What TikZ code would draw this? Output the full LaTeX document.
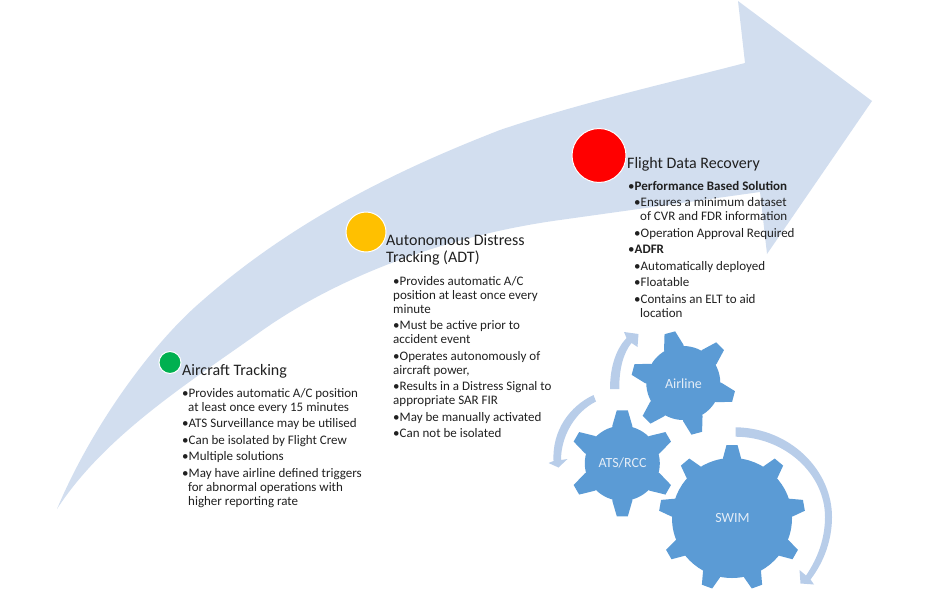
\documentclass[tikz,border=0pt]{standalone}
\usepackage{fontspec}
\setmainfont{Carlito}
\usetikzlibrary{positioning}

\definecolor{arrowblue}{HTML}{D2DEEF}
\definecolor{gearblue}{HTML}{5B9BD5}
\definecolor{swirlblue}{HTML}{B8CDE9}
\definecolor{textgrey}{HTML}{202020}
\definecolor{gearwhite}{HTML}{E4EDF7}
\definecolor{dotgreen}{HTML}{00B050}
\definecolor{dotamber}{HTML}{FFC000}

% gear: x, y, radius, tip radius, teeth, start angle, base half width, tip half width
\newcommand{\gearshape}[8]{%
  \begin{scope}[shift={(#1,#2)},y=1pt]
    \fill[gearblue] (0,0) circle[radius=#3];
    \foreach \i in {1,...,#5}
      \fill[gearblue,rotate=#6+(\i-1)*360/#5] (#3-3,-#7) -- (#3,-#7) -- (#4,-#8) -- (#4,#8) -- (#3,#7) -- (#3-3,#7) -- cycle;
  \end{scope}}

\begin{document}
\begin{tikzpicture}[x=1pt,y=-1pt,
  dotnode/.style={circle,draw=white,line width=1pt,inner sep=0pt},
  heading/.style={anchor=north west,font=\fontsize{16}{17}\selectfont,text=textgrey,inner sep=0pt,align=left},
  listnode/.style={anchor=north west,font=\fontsize{13}{14}\selectfont,text=textgrey,inner sep=0pt,align=left},
  gearlabel/.style={font=\fontsize{14}{16}\selectfont,text=gearwhite},
]
\useasboundingbox (0,0) rectangle (928,597);

% Big arrow
\fill[arrowblue] (57,509) .. controls (90,430) and (150,345) .. (203,300)
  .. controls (300,215) and (410,165) .. (500,130)
  .. controls (580,103) and (660,85) .. (745,63)
  -- (738,1) -- (872,101) -- (767,254) -- (760,192) -- (560,220)
  .. controls (450,235) and (340,275) .. (260,332)
  .. controls (190,382) and (105,435) .. (57,509) -- cycle;

% Milestones
\node[dotnode,fill=dotgreen,minimum size=22pt] (trackdot) at (170,362.5) {};
\node[dotnode,fill=dotamber,minimum size=40pt] (adtdot) at (366,232) {};
\node[dotnode,fill=red,minimum size=54pt] (flightdot) at (599,155.5) {};

% Aircraft Tracking
\node[heading] (trackhead) at (182,364) {Aircraft Tracking};
\node[listnode] (tracklist) at (182,388) {%
  •Provides automatic A/C position\\
  \hspace*{6pt}at least once every 15 minutes\\[2.5pt]
  •ATS Surveillance may be utilised\\[2.5pt]
  •Can be isolated by Flight Crew\\[2.5pt]
  •Multiple solutions\\[2.5pt]
  •May have airline defined triggers\\
  \hspace*{6pt}for abnormal operations with\\
  \hspace*{6pt}higher reporting rate};

% Autonomous Distress Tracking
\node[heading] (adthead) at (386,234) {Autonomous Distress\\Tracking (ADT)};
\node[listnode] (adtlist) at (393,276) {%
  •Provides automatic A/C\\
  position at least once every\\
  minute\\[2.5pt]
  •Must be active prior to\\
  accident event\\[2.5pt]
  •Operates autonomously of\\
  aircraft power,\\[2.5pt]
  •Results in a Distress Signal to\\
  appropriate SAR FIR\\[2.5pt]
  •May be manually activated\\[2.5pt]
  •Can not be isolated};

% Flight Data Recovery
\node[heading] (flighthead) at (627,157) {Flight Data Recovery};
\node[listnode] (flightlist) at (628,181) {%
  •\textbf{Performance Based Solution}\\[2.5pt]
  \hspace*{6pt}•Ensures a minimum dataset\\
  \hspace*{12pt}of CVR and FDR information\\[2.5pt]
  \hspace*{6pt}•Operation Approval Required\\[2.5pt]
  •\textbf{ADFR}\\[2.5pt]
  \hspace*{6pt}•Automatically deployed\\[2.5pt]
  \hspace*{6pt}•Floatable\\[2.5pt]
  \hspace*{6pt}•Contains an ELT to aid\\
  \hspace*{12pt}location};

% Swirl arrows
\fill[swirlblue] (610,389) .. controls (610,365) and (617,348) .. (626.5,338)
  -- (624,332) -- (638.5,334) -- (637.5,347) -- (631.5,343)
  .. controls (624,352) and (619,368) .. (619.3,389) -- cycle;
\fill[swirlblue] (593.5,395) .. controls (570,406) and (552,430) .. (553.5,461)
  -- (548.5,463) -- (558.5,467.5) -- (567.5,459) -- (561,460)
  .. controls (561,436) and (575,412) .. (596,401.5) -- cycle;
\fill[swirlblue] (735.7,427.3) .. controls (790,428) and (832,470) .. (832,517)
  .. controls (832,540) and (824,562) .. (810.5,579.5)
  -- (814,584.5) -- (800.5,583.5) -- (799.5,570) -- (806,575.5)
  .. controls (818,558) and (825,538) .. (825,517)
  .. controls (825,474) and (785,437) .. (735.7,436.7) -- cycle;

% Gears
\gearshape{732}{518}{60}{73}{9}{90}{9}{5.5}
\gearshape{683.3}{383}{37}{52}{6}{105}{10}{5.5}
\gearshape{622.3}{463.3}{37.5}{53}{6}{90}{10}{5.5}
\node[gearlabel] (airline) at (683.5,384) {Airline};
\node[gearlabel] (atsrcc) at (622.5,463) {ATS/RCC};
\node[gearlabel] (swim) at (732.5,518) {SWIM};
\end{tikzpicture}
\end{document}
